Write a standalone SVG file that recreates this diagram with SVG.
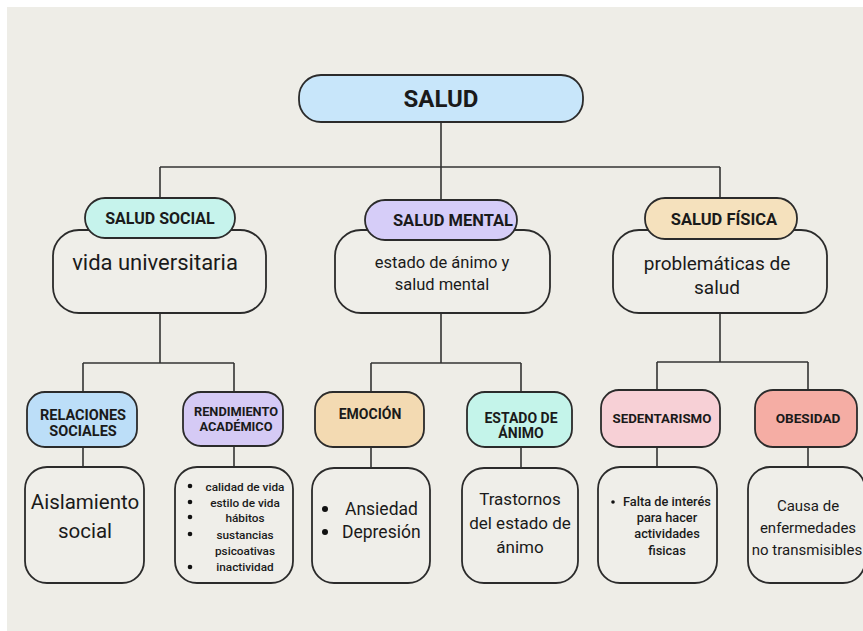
<svg xmlns="http://www.w3.org/2000/svg" width="863" height="631" viewBox="0 0 863 631">
<style>
.bg{fill:#EEEDE7}
.pill{stroke:#2b2b2b;stroke-width:1.8}
.box{fill:#EFEEE9;stroke:#2b2b2b;stroke-width:1.8}
.conn line{stroke:#333;stroke-width:1.6}
.dot{fill:#111}
text{font-family:Roboto,"Liberation Sans",Arial,sans-serif;fill:#1a1a1a;text-anchor:middle}
.st{text-anchor:start}
.h{font-weight:bold}
.lb{font-weight:bold}
.sm{font-weight:500}
</style>
<rect width="863" height="631" fill="#ffffff"/>
<rect class="bg" x="7" y="7" width="856" height="624"/>

<g id="connectors" class="conn">
  <line x1="441" y1="122" x2="441" y2="167"/>
  <line x1="160" y1="167" x2="720" y2="167"/>
  <line x1="160" y1="167" x2="160" y2="199"/>
  <line x1="441" y1="167" x2="441" y2="200"/>
  <line x1="720" y1="167" x2="720" y2="199"/>
  <line x1="160" y1="313" x2="160" y2="363"/>
  <line x1="83" y1="363" x2="234" y2="363"/>
  <line x1="83" y1="363" x2="83" y2="392"/>
  <line x1="234" y1="363" x2="234" y2="392"/>
  <line x1="83" y1="447" x2="83" y2="467"/>
  <line x1="234" y1="446" x2="234" y2="467"/>
  <line x1="441" y1="313" x2="441" y2="363"/>
  <line x1="371" y1="363" x2="521" y2="363"/>
  <line x1="371" y1="363" x2="371" y2="392"/>
  <line x1="521" y1="363" x2="521" y2="392"/>
  <line x1="371" y1="447" x2="371" y2="468"/>
  <line x1="521" y1="447" x2="521" y2="468"/>
  <line x1="720" y1="313" x2="720" y2="362"/>
  <line x1="657" y1="362" x2="808" y2="362"/>
  <line x1="657" y1="362" x2="657" y2="390"/>
  <line x1="808" y1="362" x2="808" y2="390"/>
  <line x1="657" y1="447" x2="657" y2="467"/>
  <line x1="808" y1="447" x2="808" y2="467"/>
</g>

<g id="salud">
  <rect class="pill" x="299" y="75" width="284" height="47" rx="22" fill="#C8E6FA"/>
  <text class="h" x="441" y="107" font-size="24">SALUD</text>
</g>

<g id="vida-universitaria">
  <rect class="box" x="53" y="230" width="213" height="83" rx="26"/>
  <text x="155" y="270" font-size="22">vida universitaria</text>
</g>
<g id="salud-social">
  <rect class="pill" x="85" y="198" width="150" height="40" rx="20" fill="#C6F3EC"/>
  <text class="h" x="160" y="224" font-size="16">SALUD SOCIAL</text>
</g>

<g id="estado-salud-mental">
  <rect class="box" x="335" y="230" width="215" height="83" rx="26"/>
  <text x="442" y="268" font-size="16.5">estado de ánimo y</text>
  <text x="442" y="290" font-size="16.5">salud mental</text>
</g>
<g id="salud-mental">
  <rect class="pill" x="365" y="200" width="152" height="40" rx="20" fill="#D6CDF8"/>
  <text class="h" x="453" y="226" font-size="16.5">SALUD MENTAL</text>
</g>

<g id="problematicas">
  <rect class="box" x="613" y="230" width="214" height="83" rx="26"/>
  <text x="717" y="270" font-size="19">problemáticas de</text>
  <text x="717" y="294" font-size="19">salud</text>
</g>
<g id="salud-fisica">
  <rect class="pill" x="645" y="198" width="152" height="41" rx="20" fill="#F5E1BD"/>
  <text class="h" x="724" y="225" font-size="16.5">SALUD FÍSICA</text>
</g>

<g id="relaciones-sociales">
  <rect class="pill" x="27" y="392" width="110" height="55" rx="18" fill="#BCDEF8"/>
  <text class="lb" x="83" y="420" font-size="14.5">RELACIONES</text>
  <text class="lb" x="83" y="436" font-size="14.5">SOCIALES</text>
</g>
<g id="rendimiento-academico">
  <rect class="pill" x="183" y="392" width="100" height="54" rx="18" fill="#D5CAF5"/>
  <text class="lb" x="236" y="416" font-size="12.8">RENDIMIENTO</text>
  <text class="lb" x="236" y="431" font-size="12.8">ACADÉMICO</text>
</g>
<g id="emocion">
  <rect class="pill" x="315" y="392" width="109" height="55" rx="18" fill="#F3DAB2"/>
  <text class="lb" x="370" y="419" font-size="14">EMOCIÓN</text>
</g>
<g id="estado-de-animo">
  <rect class="pill" x="467" y="392" width="105" height="55" rx="18" fill="#C4F4EA"/>
  <text class="lb" x="521" y="423" font-size="14">ESTADO DE</text>
  <text class="lb" x="521" y="438" font-size="14">ÁNIMO</text>
</g>
<g id="sedentarismo">
  <rect class="pill" x="601" y="390" width="119" height="57" rx="18" fill="#F7D0D6"/>
  <text class="lb" x="662" y="423" font-size="13.3">SEDENTARISMO</text>
</g>
<g id="obesidad">
  <rect class="pill" x="755" y="390" width="102" height="57" rx="18" fill="#F5ADA4"/>
  <text class="lb" x="808" y="423" font-size="13.6">OBESIDAD</text>
</g>

<g id="aislamiento">
  <rect class="box" x="25" y="467" width="119" height="116" rx="22"/>
  <text x="85" y="509" font-size="20.5">Aislamiento</text>
  <text x="85" y="538" font-size="20.5">social</text>
</g>
<g id="rendimiento-detalle">
  <rect class="box" x="175" y="467" width="118" height="116" rx="22"/>
  <circle class="dot" cx="190" cy="486" r="2.3"/>
  <circle class="dot" cx="190" cy="502" r="2.3"/>
  <circle class="dot" cx="190" cy="517" r="2.3"/>
  <circle class="dot" cx="190" cy="534" r="2.3"/>
  <circle class="dot" cx="190" cy="567" r="2.3"/>
  <text class="sm" x="245" y="491" font-size="11.8">calidad de vida</text>
  <text class="sm" x="245" y="507" font-size="11.8">estilo de vida</text>
  <text class="sm" x="245" y="522" font-size="11.8">hábitos</text>
  <text class="sm" x="245" y="539" font-size="11.8">sustancias</text>
  <text class="sm" x="245" y="555" font-size="11.8">psicoativas</text>
  <text class="sm" x="245" y="571" font-size="11.8">inactividad</text>
</g>
<g id="emocion-detalle">
  <rect class="box" x="312" y="468" width="118" height="115" rx="22"/>
  <circle class="dot" cx="325" cy="509" r="3"/>
  <circle class="dot" cx="325" cy="532" r="3"/>
  <text class="st" x="345" y="515" font-size="17.5">Ansiedad</text>
  <text class="st" x="342" y="538" font-size="17.5">Depresión</text>
</g>
<g id="trastornos">
  <rect class="box" x="462" y="468" width="116" height="115" rx="22"/>
  <text x="520" y="505" font-size="17">Trastornos</text>
  <text x="520" y="529" font-size="17">del estado de</text>
  <text x="520" y="553" font-size="17">ánimo</text>
</g>
<g id="sedentarismo-detalle">
  <rect class="box" x="598" y="467" width="119" height="116" rx="22"/>
  <circle class="dot" cx="613" cy="502" r="1.8"/>
  <text class="sm" x="667" y="506" font-size="12.8">Falta de interés</text>
  <text class="sm" x="667" y="522" font-size="12.8">para hacer</text>
  <text class="sm" x="667" y="538" font-size="12.8">actividades</text>
  <text class="sm" x="667" y="555" font-size="12.8">fisicas</text>
</g>
<g id="causa">
  <rect class="box" x="748" y="467" width="117" height="116" rx="22"/>
  <text x="808" y="511" font-size="15">Causa de</text>
  <text x="808" y="533" font-size="15">enfermedades</text>
  <text x="807" y="555" font-size="15">no transmisibles</text>
</g>
</svg>
